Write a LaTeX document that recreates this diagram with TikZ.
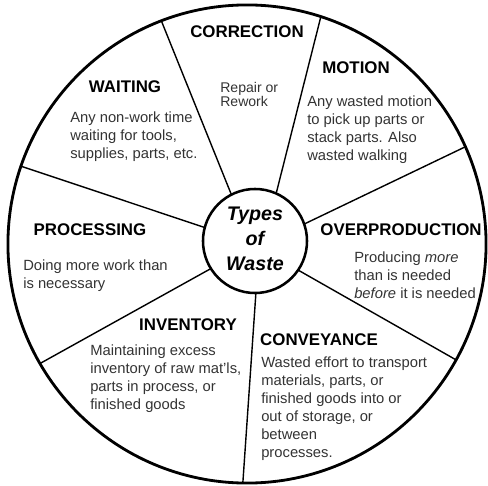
\documentclass[tikz,border=0pt]{standalone}
\usepackage{fontspec}
\setmainfont{Liberation Sans}

\begin{document}
\begin{tikzpicture}[x=0.025cm,y=-0.025cm]
\tikzset{myHead/.style={font=\bfseries\fontsize{12}{14}\selectfont,inner sep=0}}
\tikzset{myBody/.style={font=\fontsize{10.5}{12.8}\selectfont,align=left,anchor=north west,inner sep=0,text=black!80}}
\tikzset{mySpoke/.style={line width=1pt}}
\useasboundingbox (0,0) rectangle (488,486);

\node[draw,circle,line width=2pt,minimum size=11.95cm,outer sep=0] (rim) at (247,244) {};
\node[draw,circle,line width=1.8pt,minimum size=2.6cm,inner sep=0,outer sep=0,align=center,
  font=\bfseries\itshape\fontsize{14}{18}\selectfont] (hub) at (255,241) {Types\\of\\Waste\rule[-3pt]{0pt}{0pt}};

% spokes between the hub and the rim
\path[draw,mySpoke] (hub.117) edge (rim.111);
\path[draw,mySpoke] (hub.66) edge (rim.72);
\path[draw,mySpoke] (hub.19) edge (rim.24);
\path[draw,mySpoke] (hub.-34) edge (rim.-29);
\path[draw,mySpoke] (hub.-89) edge (rim.-91);
\path[draw,mySpoke] (hub.-148) edge (rim.-150);
\path[draw,mySpoke] (hub.165) edge (rim.161);

\node[myHead] (correction) at (247,32) {CORRECTION};
\node[myBody,font=\fontsize{10}{9.8}\selectfont] (correctionText) at (220,82) {Repair or\\Rework};

\node[myHead] (motion) at (356,68) {MOTION};
\node[myBody] (motionText) at (307,96) {Any wasted motion\\to pick up parts or\\stack parts. Also\\wasted walking};

\node[myHead] (overproduction) at (401,230) {OVERPRODUCTION};
\node[myBody] (overproductionText) at (354,252) {Producing \textit{more}\\than is needed\\\textit{before} it is needed};

\node[myHead] (conveyance) at (319,340) {CONVEYANCE};
\node[myBody] (conveyanceText) at (261,357) {Wasted effort to transport\\materials, parts, or\\finished goods into or\\out of storage, or\\between\\processes.};

\node[myHead] (inventory) at (188,325) {INVENTORY};
\node[myBody] (inventoryText) at (90,345) {Maintaining excess\\inventory of raw mat'ls,\\parts in process, or\\finished goods};

\node[myHead] (processing) at (90,230) {PROCESSING};
\node[myBody] (processingText) at (23,260) {Doing more work than\\is necessary};

\node[myHead] (waiting) at (125,87) {WAITING};
\node[myBody] (waitingText) at (70,112) {Any non-work time\\waiting for tools,\\supplies, parts, etc.};

\end{tikzpicture}
\end{document}
